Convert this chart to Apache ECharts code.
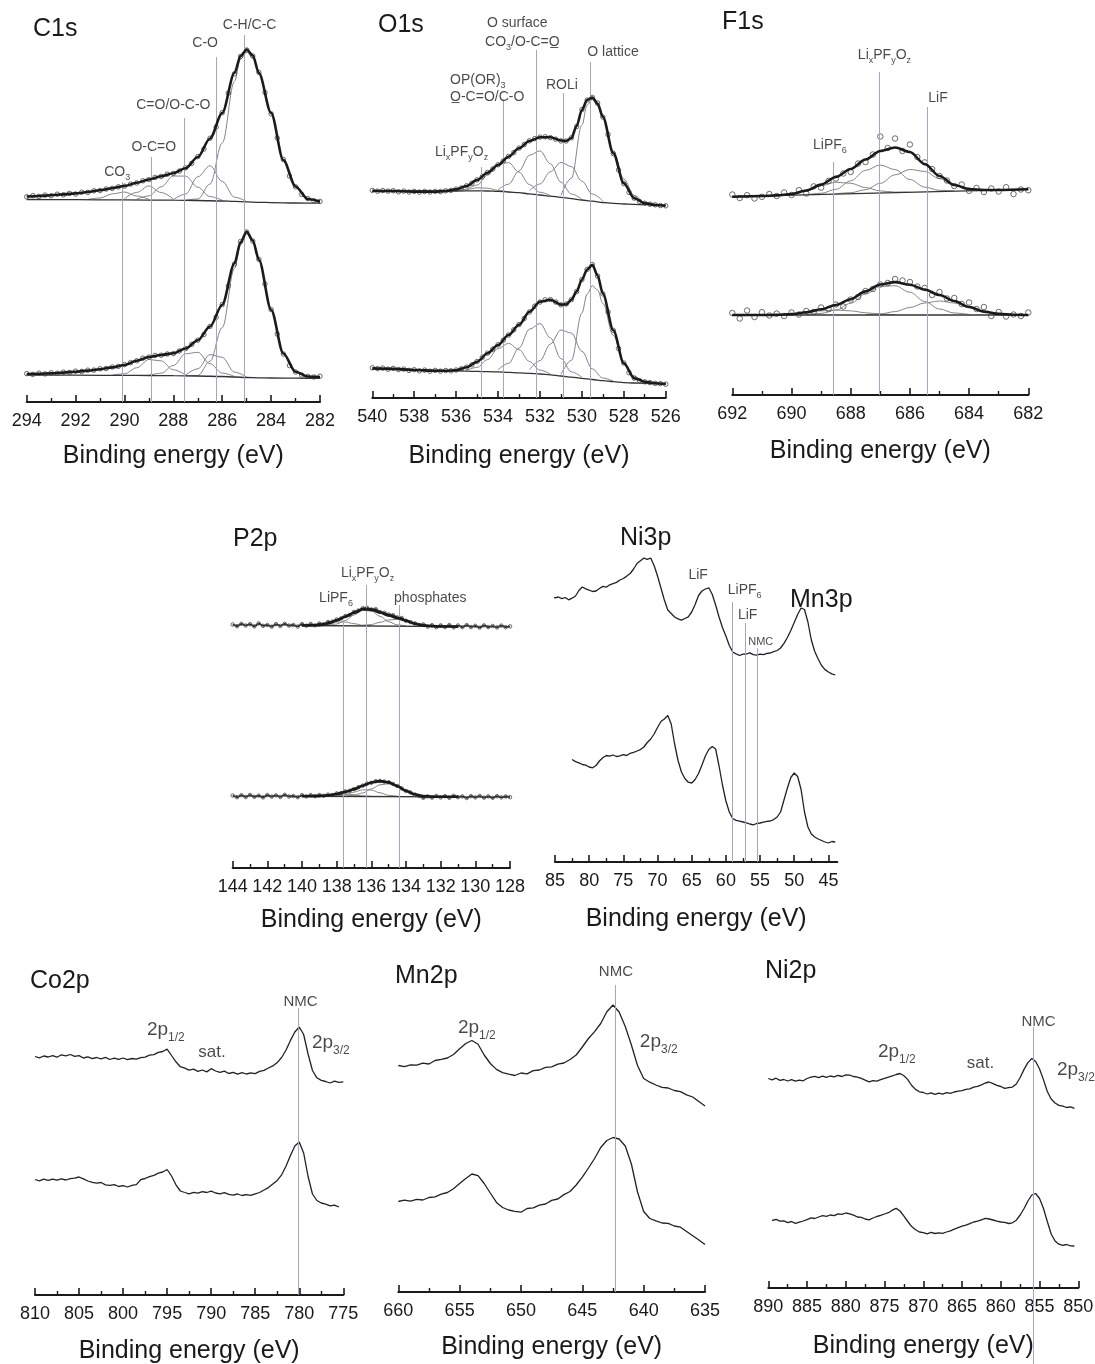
<!DOCTYPE html>
<html>
<head>
<meta charset="utf-8">
<title>XPS spectra</title>
<script src="https://cdn.jsdelivr.net/npm/echarts@6/dist/echarts.min.js"></script>
<style>
  html, body { margin: 0; padding: 0; background: #fff; }
  #chart { width: 1095px; height: 1364px; }
</style>
</head>
<body>
<div id="chart"></div>
<script>
// ---------------------------------------------------------------
// Measured spectra: counts (a.u.) on an evenly stepped energy scan,
// fit curves as [binding energy, counts] pairs.
// ---------------------------------------------------------------

// C1s (scan 294 -> 282 eV, 0.25 eV step)
const c1sTopCounts = [205.2,206.4,205.6,206.9,206.3,207.8,207.2,208.6,208.0,209.8,209.6,211.2,211.5,213.0,213.6,215.2,215.8,217.9,219.0,221.2,222.4,224.6,225.6,227.8,228.6,231.0,234.2,238.6,245.4,253.0,263.8,275.0,289.4,309.0,328.2,345.6,352.0,346.0,329.6,309.5,288.2,264.0,242.5,226.0,215.2,207.6,203.4,201.2,200.6];
const c1sBottomCounts = [28.4,27.6,28.8,28.1,29.2,28.8,29.9,29.6,30.8,30.6,31.8,31.9,33.2,33.5,35.0,35.6,37.4,39.4,41.2,43.8,45.0,46.6,46.8,48.0,48.4,51.0,53.4,57.6,61.8,67.5,75.6,84.8,97.5,116.0,138.0,160.5,170.0,161.0,142.6,118.0,92.5,68.0,48.0,36.5,30.0,27.0,25.6,25.0,25.8];
const c1sTopEnvelope = [[294,205.5],[293.5,206],[293,206.8],[292.5,207.6],[292,208.6],[291.5,210],[291,211.8],[290.5,213.8],[290,216],[289.5,219.2],[289,222.5],[288.5,225.8],[288,228.8],[287.5,233.8],[287,245],[286.5,263.5],[286,289],[285.5,329],[285.25,346],[285,352.5],[284.75,346.5],[284.5,329],[284,289],[283.5,242],[283,215.5],[282.5,203],[282,200.5]];
const c1sTopBackground = [[294,202.5],[292,202.3],[290,202.1],[288,201.8],[287,201.5],[286,201],[285.5,200.6],[285,200.1],[284.5,199.7],[284,199.4],[283,199],[282,198.8]];
const c1sTopCH = [[287.5,201.9],[287,203],[286.5,218],[286,259],[285.5,320.5],[285.25,343],[285,350],[284.75,344],[284.5,328.7],[284,288.7],[283.5,242],[283,215.3],[282.5,202.5],[282,199.2]];
const c1sTopCO = [[288,202.4],[287.5,207.9],[287,225.2],[286.5,236.3],[286,220.6],[285.5,204.8],[285,200.4]];
const c1sTopCdO = [[289.5,202.7],[289,206.1],[288.5,215.2],[288,226],[287.5,225.9],[287,214.8],[286.5,205.4],[286,201.7]];
const c1sTopOCO = [[290,203.3],[289.5,209.6],[289,216],[288.5,209.5],[288,203]];
const c1sTopCO3 = [[291.5,202.6],[291,204],[290.5,208.1],[290,210],[289.5,206],[289,202.7]];
const c1sBottomEnvelope = [[294,28],[293.5,28.3],[293,28.7],[292.5,29.4],[292,30.3],[291.5,31.4],[291,32.7],[290.5,34.6],[290,37],[289.5,41.2],[289,45],[288.5,47],[288,48.7],[287.5,53.5],[287,61.8],[286.5,75.5],[286,97.3],[285.5,138.5],[285.25,160],[285,170.2],[284.75,161.5],[284.5,142.3],[284,92.3],[283.5,48.5],[283,30.2],[282.5,25.5],[282,25]];
const c1sBottomBackground = [[294,27],[292,26.8],[290,26.6],[289,26.5],[288,26.3],[287,26],[286,25.5],[285.5,25],[285,24.5],[284.5,24.2],[284,24],[283,23.8],[282,23.7]];
const c1sBottomCH = [[287.5,26.2],[287,26.5],[286.5,40.8],[286,74.4],[285.5,133.3],[285.25,157],[285,169.5],[284.75,160.5],[284.5,142],[284,92],[283.5,48.7],[283,30.3],[282.5,25],[282,24]];
const c1sBottomCO = [[287.5,26.9],[287,33.2],[286.5,47.4],[286,44.7],[285.5,29.9],[285,24.9]];
const c1sBottomCdO = [[289,26.7],[288.5,28.8],[288,36.5],[287.5,48.2],[287,49.7],[286.5,38.3],[286,28.9],[285.5,25.5]];
const c1sBottomOCO = [[290.5,26.9],[290,28.2],[289.5,34.2],[289,42.5],[288.5,41.1],[288,32.2],[287.5,27.2]];
const c1sAssignments = [290.1, 288.9, 287.55, 286.25, 285.1];

// O1s (scan 540 -> 526 eV, 0.25 eV step)
const o1sTopCounts = [207.6,206.8,207.5,206.9,207.3,206.2,206.9,206.0,206.6,205.9,206.5,206.0,206.6,206.4,207.2,207.6,208.9,210.0,212.2,214.8,218.2,221.4,225.6,229.0,233.2,237.0,241.6,245.4,249.9,253.5,257.2,259.4,260.9,261.2,260.4,258.8,257.1,257.0,260.2,271.5,288.4,298.0,300.6,295.0,281.0,263.5,244.4,228.0,214.4,205.6,199.9,196.6,194.8,193.8,193.2,192.4,192.2];
const o1sBottomCounts = [30.2,29.4,29.9,28.8,29.6,28.5,28.9,27.6,28.3,27.2,27.9,26.8,27.6,26.9,27.5,27.2,28.0,29.2,30.9,33.2,36.5,40.6,44.8,48.9,53.2,57.8,63.0,68.2,73.4,79.5,86.0,91.8,96.0,98.2,98.4,96.0,93.2,94.0,98.4,106.5,118.4,128.6,133.4,122.0,104.2,86.0,67.6,49.5,35.0,25.4,20.0,17.4,16.2,15.4,14.6,14.4,13.8];
const o1sTopEnvelope = [[540,207.3],[539,207],[538,206.4],[537,206.3],[536.5,207],[536,208.7],[535.5,212],[535,218],[534.5,225.3],[534,233],[533.5,241.3],[533,249.7],[532.5,257],[532,260.7],[531.5,260.7],[531,257.5],[530.75,257],[530.5,260],[530.25,272],[530,288],[529.75,298],[529.5,300.5],[529.25,294.5],[529,281.3],[528.5,244.7],[528,214.7],[527.5,199.7],[527,194.7],[526.5,193],[526,192.3]];
const o1sTopBackground = [[540,207],[536,207],[535,207.2],[534.5,207],[534,206.6],[533.5,206],[533,205.3],[532.5,204.2],[532,203],[531.5,201.9],[531,200.7],[530.5,199.4],[530,198],[529.5,196.8],[529,195.5],[528.5,194.6],[528,194],[527.5,193.6],[527,193.3],[526,192.7]];
const o1sTopLiPFO = [[536,207.1],[535.5,208.6],[535,210.2],[534.5,209.8],[534,207.6],[533.5,206.1]];
const o1sTopOP = [[535.5,208.2],[535,213],[534.5,222.8],[534,233.6],[533.5,235.4],[533,225.9],[532.5,213.4],[532,205.7],[531.5,202.4]];
const o1sTopSurface = [[534,208.2],[533.5,213.8],[533,227],[532.5,242.8],[532,247.1],[531.5,234.2],[531,215.9],[530.5,204],[530,198.9]];
const o1sTopROLi = [[532.5,207.4],[532,214],[531.5,226.3],[531,235.6],[530.5,231.4],[530,216.8],[529.5,203.9],[529,197.2]];
const o1sTopLattice = [[531,202.7],[530.5,219.8],[530,272.8],[529.75,293],[529.5,298.8],[529.25,292],[529,279.8],[528.5,247.2],[528,218.9],[527.5,202.5],[527,195.7],[526.5,193.5]];
const o1sBottomEnvelope = [[540,29.7],[539,29.3],[538,28],[537,27.3],[536.5,27.3],[536,27.7],[535.5,30.7],[535,36.3],[534.5,44.7],[534,53],[533.5,63],[533,73.2],[532.5,86.2],[532,96.2],[531.5,98.2],[531,93.4],[530.75,93.6],[530.5,98.2],[530.25,106.5],[530,118.2],[529.75,128.5],[529.5,133.2],[529.25,122.5],[529,104.5],[528.5,67.8],[528,34.8],[527.5,19.8],[527,16.3],[526.5,14.7],[526,14]];
const o1sBottomBackground = [[540,28.8],[538,28],[537,27.5],[536,27.1],[535,26.7],[534,26.2],[533.5,25.7],[533,25.1],[532.5,24.6],[532,24],[531.5,23.1],[531,22],[530.5,20.9],[530,19.7],[529.5,18.5],[529,17.3],[528.5,16.3],[528,15.4],[527.5,15],[527,14.7],[526.5,14.3],[526,14]];
const o1sBottomOP = [[535.5,27.7],[535,30.6],[534.5,38.4],[534,49.4],[533.5,54.7],[533,48.3],[532.5,36.5],[532,27.9],[531.5,23.9]];
const o1sBottomSurface = [[534,28.2],[533.5,34.6],[533,50],[532.5,68.8],[532,74.5],[531.5,60.1],[531,39.4],[530.5,26.2],[530,20.7]];
const o1sBottomROLi = [[532.5,28.3],[532,37.3],[531.5,54],[531,68],[530.5,64.9],[530,46.8],[529.5,29.1],[529,20],[528.5,16.7]];
const o1sBottomLattice = [[531,23.6],[530.5,37.6],[530,84.9],[529.75,104],[529.5,112.3],[529.25,108],[529,94.6],[528.5,62.6],[528,35.7],[527.5,21.5],[527,16.2],[526.5,14.5]];
const o1sAssignments = [534.78, 533.75, 532.2, 530.9, 529.6];

// F1s (scan 692 -> 682 eV, 0.25 eV step)
const f1sTopCounts = [200.5,197.0,199.8,196.5,198.2,201.0,199.0,202.5,200.0,204.8,201.5,208.6,207.4,214.0,216.5,221.5,223.0,231.5,233.0,240.5,258.5,247.0,256.5,244.0,250.5,238.0,232.6,226.0,219.0,214.5,209.0,210.5,204.2,207.0,203.0,206.5,203.5,207.8,201.0,205.5,204.8];
const f1sBottomCounts = [82.0,76.5,84.5,78.0,82.8,79.5,81.5,79.0,82.5,80.5,84.0,83.0,87.5,86.0,90.5,88.5,95.5,98.0,104.0,106.0,110.5,112.0,116.0,114.5,113.0,108.5,107.0,100.0,103.0,96.5,97.0,91.0,92.5,86.0,88.0,79.0,83.0,78.5,80.5,79.0,82.5];
const f1sTopEnvelope = [[692,198.3],[691,199],[690.5,199.6],[690,201],[689.5,204.5],[689,210.4],[688.5,218],[688,226],[687.5,235.5],[687,244],[686.5,247.5],[686,243],[685.5,231],[685,219],[684.5,210],[684,206],[683.5,205],[683,205],[682,205.7]];
const f1sTopBackground = [[692,198.3],[682,205.7]];
const f1sTopLiPF6 = [[690.5,199.6],[690,201],[689.5,204.2],[689,209.2],[688.5,212.8],[688,211.7],[687.5,207.4],[687,204.1],[686.5,202.9],[686,202.7]];
const f1sTopLixPFyOz = [[689.5,200.3],[689,201.7],[688.5,205.7],[688,214.1],[687.5,224.6],[687,230],[686.5,225.4],[686,215.5],[685.5,207.9],[685,204.7],[684.5,203.9]];
const f1sTopLiF = [[688.5,201.2],[688,202.3],[687.5,205.3],[687,211.7],[686.5,220.2],[686,225.5],[685.5,223.6],[685,216.4],[684.5,209.6],[684,205.9],[683.5,205],[683,205]];
const f1sBottomEnvelope = [[692,80],[691,80],[690.5,80.1],[690,80.9],[689.5,82.7],[689,85.7],[688.5,90],[688,95.8],[687.5,103.6],[687,110.5],[686.5,112.9],[686,110.3],[685.5,105.5],[685,100],[684.5,94],[684,88],[683.5,83.4],[683,81.1],[682.5,80.3],[682,80]];
const f1sBottomBackground = [[692,80],[682,80]];
const f1sBottomLiPF6 = [[690.5,80.1],[690,80.9],[689.5,82.3],[689,84.1],[688.5,85],[688,84.1],[687.5,82.3],[687,80.9],[686.5,80.2]];
const f1sBottomLixPFyOz = [[689.5,80.4],[689,81.6],[688.5,85],[688,91.7],[687.5,101],[687,108.5],[686.5,109.3],[686,102.8],[685.5,93.5],[685,86],[684.5,82],[684,80.5]];
const f1sBottomLiF = [[687.5,80.3],[687,81.1],[686.5,83.4],[686,87.5],[685.5,92],[685,94],[684.5,92],[684,87.5],[683.5,83.4],[683,81.1],[682.5,80.3]];
const f1sAssignments = [688.6, 687.05, 685.4];

// P2p (scan 144 -> 128 eV, 0.25 eV step)
const p2pTopCounts = [243.5,241.8,244.2,242.5,243.8,241.6,244.6,242.2,243.0,241.4,243.8,242.0,244.2,242.4,243.0,241.5,243.9,242.3,244.0,242.6,244.5,243.8,246.0,246.4,248.5,249.6,252.0,253.0,256.2,257.5,259.8,260.2,258.6,258.9,256.0,255.2,253.5,252.8,250.6,250.0,247.2,246.0,244.6,243.0,243.6,241.4,242.8,240.8,242.6,241.0,243.0,240.6,242.5,240.8,242.9,241.0,242.2,240.4,242.6,240.9,242.0,240.6,242.4,240.8,241.6];
const p2pBottomCounts = [72.5,70.8,72.8,71.0,73.0,71.2,72.4,70.6,72.9,71.4,72.6,71.0,73.2,71.5,72.0,70.8,72.8,71.6,72.9,71.8,73.0,72.2,73.4,73.0,74.6,75.0,76.6,77.2,79.0,80.8,82.4,84.5,85.2,86.8,87.0,86.4,85.8,84.0,82.0,79.6,77.0,75.6,73.5,72.0,70.2,71.6,70.4,72.0,70.6,71.8,70.2,72.2,70.8,71.6,70.0,71.8,70.6,72.0,70.4,71.6,70.2,71.8,70.6,71.5,70.8];
const p2pTopEnvelope = [[140,242.5],[139.5,242.6],[139,242.9],[138.5,244.5],[138,247.6],[137.5,251.3],[137,255.3],[136.5,258.7],[136,258.4],[135.5,255.5],[135,252.5],[134.5,250],[134,247.4],[133.5,244.4],[133,242.6],[132.5,241.9],[132,241.5],[131,241.4]];
const p2pTopBackground = [[140,242.5],[131,241.4]];
const p2pTopLiPF6 = [[139.5,242.5],[139,242.9],[138.5,244.1],[138,245.9],[137.5,246],[137,244.3],[136.5,242.8],[136,242.1]];
const p2pTopLixPFyOz = [[138.5,242.7],[138,244],[137.5,247.5],[137,253.1],[136.5,257.6],[136,256.9],[135.5,251.7],[135,246.3],[134.5,243.1],[134,242.1]];
const p2pTopPhosphates = [[136.5,242.5],[136,243.5],[135.5,245.7],[135,248.1],[134.5,248.7],[134,247.1],[133.5,244.4],[133,242.6],[132.5,241.9]];
const p2pBottomEnvelope = [[140,71.8],[139.5,71.8],[139,71.9],[138.5,72.6],[138,74],[137.5,76.1],[137,78.7],[136.5,82.2],[136,85.5],[135.5,86.9],[135,85.6],[134.5,81.9],[134,77.2],[133.5,73.7],[133,72],[132.5,71.4],[132,71.2],[131,71.2]];
const p2pBottomBackground = [[140,71.75],[131,71.2]];
const p2pBottomLiPF6 = [[139.5,71.8],[139,71.9],[138.5,72.6],[138,73.6],[137.5,74.1],[137,73.2],[136.5,72],[136,71.6]];
const p2pBottomLixPFyOz = [[138.5,71.8],[138,72],[137.5,73.3],[137,75.9],[136.5,78.2],[136,77.9],[135.5,75.2],[135,72.7],[134.5,71.7]];
const p2pBottomPhosphates = [[137.5,71.9],[137,72.8],[136.5,75],[136,79.1],[135.5,83.2],[135,84.3],[134.5,81.6],[134,77.2],[133.5,73.7],[133,72],[132.5,71.5]];
const p2pAssignments = [137.6, 136.27, 134.4];

// Ni3p / Mn3p (0.5 eV step; top scan from 85.5 eV, bottom from 82.5 eV)
const ni3pTopCounts = [265.5,264.2,265.0,263.4,264.5,262.2,263.8,266.0,271.5,275.0,273.2,271.8,270.5,271.0,273.5,275.6,274.8,277.2,278.4,279.6,282.0,283.5,285.9,288.5,293.0,298.5,301.2,303.9,302.6,304.0,296.5,286.0,274.0,262.0,252.0,248.5,245.0,243.2,241.8,243.5,245.2,250.0,257.5,266.5,271.0,273.0,274.2,267.8,257.0,245.0,234.5,226.0,216.5,210.0,208.2,206.5,207.8,208.0,209.2,207.4,206.8,207.9,207.3,208.6,209.0,210.4,211.5,214.0,218.6,224.5,231.5,239.5,247.5,254.0,252.5,240.0,222.0,210.5,203.0,196.5,192.4,190.0,188.2,187.0];
const ni3pBottomCounts = [102.5,100.4,99.2,97.5,96.8,95.0,94.2,96.5,101.0,104.2,106.5,105.8,107.0,105.5,106.2,107.4,106.5,108.7,109.6,111.0,112.4,115.0,119.5,123.0,128.0,134.5,140.5,143.0,146.5,138.0,118.0,101.5,90.0,83.5,79.8,79.0,82.5,88.5,97.0,106.0,112.5,115.5,113.0,96.0,77.0,61.0,50.0,43.5,41.6,40.8,40.0,39.2,38.0,37.2,38.5,39.0,39.8,40.6,41.0,42.4,45.0,50.0,62.0,74.0,84.5,89.0,85.5,72.5,50.0,35.0,28.0,25.0,23.0,21.5,20.0,19.0,20.5,20.0];
const ni3pAssignments = [59.0, 57.2, 55.4];
const ni3pTicks = [45, 50, 55, 60, 65, 70, 75, 80, 85];
const ni3pMinorTicks = [47.5, 52.5, 57.5, 62.5, 67.5, 72.5, 77.5, 82.5];

// Co2p (0.5 eV step from 810 eV)
const co2pTopCounts = [238.5,237.2,239.0,238.0,239.4,237.8,240.2,239.1,240.5,238.6,239.3,237.0,238.2,236.4,237.5,236.2,237.6,235.5,236.8,235.6,237.0,235.4,236.5,235.8,237.4,237.9,239.8,240.4,242.6,243.5,245.9,239.5,233.2,228.3,226.9,224.8,225.9,223.7,225.0,223.1,226.3,224.0,222.6,223.8,221.5,222.7,220.9,222.3,221.0,222.2,221.4,223.6,224.7,227.0,229.1,232.4,237.5,245.0,254.6,263.0,268.0,260.5,241.0,224.5,217.2,214.6,213.5,212.0,213.8,212.6,213.2];
const co2pBottomCounts = [115.5,114.2,115.8,114.6,115.9,114.8,116.2,115.0,116.4,116.9,118.0,116.1,114.0,112.6,111.8,112.5,110.2,109.6,110.4,108.5,109.3,108.0,109.6,110.4,115.3,116.5,118.4,119.6,121.8,123.0,125.5,119.0,110.2,104.0,102.5,101.2,102.6,101.8,103.4,102.5,103.8,102.0,101.2,102.3,100.6,99.8,101.0,99.5,100.4,99.6,101.2,102.5,105.0,107.4,111.0,114.6,120.2,129.0,139.5,149.0,153.0,142.0,118.5,101.0,94.5,92.0,90.8,89.2,89.9,88.0];
const co2pAssignments = [780.1];

// Mn2p (0.5 eV step from 660 eV)
const mn2pTopCounts = [226.5,225.4,227.2,226.8,228.9,228.0,231.5,232.6,234.0,237.5,243.2,248.5,251.5,247.8,237.0,228.5,222.6,219.4,217.8,216.5,219.0,218.2,221.3,222.0,224.6,225.1,227.8,229.0,232.5,237.0,245.0,253.5,260.4,268.5,280.2,287.0,280.0,265.5,247.0,226.5,213.5,209.8,207.0,204.6,204.0,201.5,200.4,197.2,195.0,190.5,186.0];
const mn2pBottomCounts = [90.5,91.8,90.9,92.6,92.0,94.5,95.2,97.8,99.5,103.2,108.6,113.5,118.0,116.3,108.5,99.0,89.6,84.5,82.0,80.6,79.8,83.5,84.2,86.8,88.0,91.6,93.0,97.4,100.5,107.0,114.8,124.0,133.5,144.5,151.5,154.5,153.0,146.0,128.0,100.0,80.5,73.5,71.2,69.0,68.6,66.0,64.8,60.5,56.2,52.0,47.5];
const mn2pAssignments = [642.3];

// Ni2p (0.5 eV step; top scan from 890 eV, bottom from 889.5 eV)
const ni2pTopCounts = [209.5,208.2,209.8,207.6,208.5,207.0,208.3,206.8,207.9,207.2,209.5,210.8,211.6,210.4,211.8,210.6,212.0,211.2,212.6,211.5,213.2,212.8,211.5,210.9,209.6,207.8,206.2,207.4,206.9,208.4,209.6,210.8,212.1,213.5,214.5,212.2,208.4,202.5,198.6,196.2,195.5,194.0,195.2,193.6,194.8,193.9,195.3,194.6,196.0,196.9,197.4,198.6,199.2,200.9,201.6,203.2,205.0,206.0,204.4,202.6,201.5,199.6,200.3,200.9,204.0,210.5,218.6,225.4,229.5,226.5,219.0,208.4,196.5,189.0,185.0,182.6,181.8,180.5,181.2,179.6];
const ni2pBottomCounts = [67.5,68.6,66.8,67.2,65.4,66.5,64.6,65.8,67.0,68.4,70.2,69.5,71.0,72.4,71.6,73.0,72.3,74.2,73.6,75.0,74.1,72.8,71.0,70.6,69.0,68.2,70.0,71.5,72.6,74.0,75.3,77.8,79.6,77.0,71.8,66.5,61.4,58.2,56.0,55.4,54.2,55.6,54.5,55.2,54.6,56.0,57.2,58.9,60.4,61.8,62.9,64.4,66.0,66.8,68.2,69.6,69.0,68.0,66.9,66.0,65.6,64.5,65.2,67.8,73.0,79.5,87.0,93.0,94.5,89.5,79.8,66.5,54.0,47.0,43.8,42.6,43.5,42.2,42.0];
const ni2pAssignments = [855.8];

// ---------------------------------------------------------------
// Drawing
// ---------------------------------------------------------------
const FONT = '"Liberation Sans", Arial, Helvetica, sans-serif';
const INK = '#1a1a1a';
const GUIDE = '#a2a7c6';
const COMP = '#858585';

// energy scan -> [eV, counts] pairs
const scan = (start, step, values) => values.map((v, i) => [+(start - i * step).toFixed(2), v]);

// panel frames (pixel boxes of the eight plots); the Ni2p frame reaches the page
// bottom so that its NMC guide can run on below the energy scale
const frames = [
  { left: 26.7,  top: 0,   width: 293.3, height: 402, yMin: 0,   yMax: 402, xMin: 282,  xMax: 294, interval: 2, nameGap: 42 },
  { left: 372.3, top: 0,   width: 293.4, height: 398, yMin: 0,   yMax: 398, xMin: 526,  xMax: 540, interval: 2, nameGap: 46 },
  { left: 732.3, top: 0,   width: 296,   height: 395, yMin: 0,   yMax: 395, xMin: 682,  xMax: 692, interval: 2, nameGap: 44 },
  { left: 232.7, top: 520, width: 277.3, height: 348, yMin: 0,   yMax: 348, xMin: 128,  xMax: 144, interval: 2, nameGap: 40 },
  { left: 555,   top: 520, width: 282.3, height: 342, yMin: 0,   yMax: 342, xMin: 43.7, xMax: 85,  majors: ni3pTicks, nameGap: 45 },
  { left: 35,    top: 960, width: 308.3, height: 335, yMin: 0,   yMax: 335, xMin: 775,  xMax: 810, interval: 5, nameGap: 44 },
  { left: 398.3, top: 960, width: 306.7, height: 332, yMin: 0,   yMax: 332, xMin: 635,  xMax: 660, interval: 5, nameGap: 43 },
  { left: 768.3, top: 960, width: 310,   height: 404, yMin: -76, yMax: 328, xMin: 850,  xMax: 890, interval: 5, nameGap: 46, offset: -76 }
];

function energyAxis(f, i) {
  const ax = {
    type: 'value', gridIndex: i, position: 'bottom', offset: f.offset || 0, inverse: true, min: f.xMin, max: f.xMax,
    axisLine: { show: true, onZero: false, lineStyle: { color: INK, width: 2 } },
    axisTick: { show: true, inside: true, length: 7, lineStyle: { color: INK, width: 1.6 } },
    axisLabel: { show: true, color: INK, fontSize: 18, fontFamily: FONT, margin: 10, showMinLabel: true, showMaxLabel: true },
    splitLine: { show: false },
    name: 'Binding energy (eV)', nameLocation: 'middle', nameGap: f.nameGap,
    nameTextStyle: { color: INK, fontSize: 25, fontFamily: FONT }
  };
  if (f.majors) {
    ax.axisTick.customValues = f.majors;
    ax.axisLabel.customValues = f.majors;
  } else {
    ax.interval = f.interval;
    ax.minorTick = { show: true, splitNumber: 2, length: 4, lineStyle: { color: INK, width: 1.4 } };
    ax.minorSplitLine = { show: false };
  }
  return ax;
}

const xAxes = frames.map(energyAxis);
// half-step ticks of the Ni3p/Mn3p scale
xAxes.push({
  type: 'value', gridIndex: 4, position: 'bottom', inverse: true, min: 43.7, max: 85,
  axisLine: { show: false, onZero: false },
  axisTick: { show: true, inside: true, length: 4, customValues: ni3pMinorTicks, lineStyle: { color: INK, width: 1.4 } },
  axisLabel: { show: false }, splitLine: { show: false }
});

const series = [];
const line = (gi, data, color, width, z, smooth) => series.push({
  type: 'line', xAxisIndex: gi, yAxisIndex: gi, data, symbol: 'none', showSymbol: false,
  smooth: smooth || false, smoothMonotone: 'x', silent: true, animation: false, z,
  lineStyle: { color, width }
});
const circles = (gi, data, size, z) => series.push({
  type: 'scatter', xAxisIndex: gi, yAxisIndex: gi, data, symbol: 'circle', symbolSize: size,
  silent: true, animation: false, z,
  itemStyle: { color: 'rgba(0,0,0,0)', borderColor: '#474747', borderWidth: 1 }
});
const guides = (gi, energies, tops, bottom) => series.push({
  type: 'line', xAxisIndex: gi, yAxisIndex: gi, data: [], silent: true, animation: false, z: 1,
  markLine: {
    silent: true, animation: false, symbol: ['none', 'none'], label: { show: false },
    lineStyle: { color: GUIDE, width: 1, type: 'solid' },
    data: energies.map((e, k) => [{ coord: [e, bottom] }, { coord: [e, tops[k]] }])
  }
});

const RICH = {
  a: { fontSize: 14, lineHeight: 20, color: INK, fontFamily: FONT },
  s: { fontSize: 9, lineHeight: 20, color: INK, fontFamily: FONT, verticalAlign: 'bottom' },
  n: { fontSize: 15, lineHeight: 20, color: INK, fontFamily: FONT },
  t: { fontSize: 11, lineHeight: 16, color: INK, fontFamily: FONT },
  p: { fontSize: 19, lineHeight: 28, color: INK, fontFamily: FONT },
  q: { fontSize: 12, lineHeight: 28, color: INK, fontFamily: FONT, verticalAlign: 'bottom' },
  r: { fontSize: 17, lineHeight: 24, color: INK, fontFamily: FONT }
};
const notes = (gi, items) => series.push({
  type: 'scatter', xAxisIndex: gi, yAxisIndex: gi, symbolSize: 1, silent: true, animation: false, z: 10,
  itemStyle: { color: 'rgba(0,0,0,0)' },
  data: items.map(([text, at, align]) => ({
    value: at,
    label: { show: true, position: 'inside', align, verticalAlign: 'middle', formatter: text, rich: RICH }
  }))
});

// fitted panel: components, background, measured points, envelope
function fitted(gi, comps, bg, counts, env, markerSize, withTrace) {
  comps.forEach(c => line(gi, c, COMP, 1, 2, 0.35));
  line(gi, bg, '#333', 1.3, 3, 0.3);
  if (withTrace) line(gi, counts, '#2a2a2a', 1.8, 4);
  circles(gi, counts, markerSize, 4);
  line(gi, env, '#1a1a1a', 2.6, 5, 0.3);
}

const LIXPFYOZ = '{a|Li}{s|x}{a|PF}{s|y}{a|O}{s|z}';
const LIPF6 = '{a|LiPF}{s|6}';

// C1s
guides(0, c1sAssignments, [220, 245, 284, 345, 367], 0);
fitted(0, [c1sTopCO3, c1sTopOCO, c1sTopCdO, c1sTopCO, c1sTopCH], c1sTopBackground, scan(294, 0.25, c1sTopCounts), c1sTopEnvelope, 4.5);
fitted(0, [c1sBottomOCO, c1sBottomCdO, c1sBottomCO, c1sBottomCH], c1sBottomBackground, scan(294, 0.25, c1sBottomCounts), c1sBottomEnvelope, 4.5);
notes(0, [
  ['{a|C-H/C-C}', [284.88, 377], 'center'],
  ['{a|C-O}', [286.7, 359], 'center'],
  ['{a|C=O/O-C-O}', [288.0, 297], 'center'],
  ['{a|O-C=O}', [288.8, 255], 'center'],
  ['{a|CO}{s|3}', [290.3, 230], 'center']
]);

// O1s
guides(1, o1sAssignments, [231, 298, 348, 305, 336], 0);
fitted(1, [o1sTopLiPFO, o1sTopOP, o1sTopSurface, o1sTopROLi, o1sTopLattice], o1sTopBackground, scan(540, 0.25, o1sTopCounts), o1sTopEnvelope, 4.5);
fitted(1, [o1sBottomOP, o1sBottomSurface, o1sBottomROLi, o1sBottomLattice], o1sBottomBackground, scan(540, 0.25, o1sBottomCounts), o1sBottomEnvelope, 4.5);
notes(1, [
  ['{a|O surface}', [534.53, 375], 'left'],
  ['{a|CO}{s|3}{a|/O-C=O\u0332}', [534.62, 356], 'left'],
  ['{a|OP(OR)}{s|3}', [536.29, 318], 'left'],
  ['{a|O\u0332-C=O/C-O}', [536.29, 301], 'left'],
  ['{a|ROLi}', [530.95, 313], 'center'],
  ['{a|O lattice}', [529.74, 346], 'left'],
  [LIXPFYOZ, [537.01, 246], 'left']
]);

// F1s
guides(2, f1sAssignments, [233, 323, 288], 0);
fitted(2, [f1sTopLiPF6, f1sTopLixPFyOz, f1sTopLiF], f1sTopBackground, scan(692, 0.25, f1sTopCounts), f1sTopEnvelope, 5.5);
fitted(2, [f1sBottomLiPF6, f1sBottomLixPFyOz, f1sBottomLiF], f1sBottomBackground, scan(692, 0.25, f1sBottomCounts), f1sBottomEnvelope, 5.5);
notes(2, [
  [LIXPFYOZ, [686.86, 340], 'center'],
  ['{a|LiF}', [685.38, 297], 'left'],
  [LIPF6, [688.7, 250], 'center']
]);

// P2p
guides(3, p2pAssignments, [248, 283, 263], 0);
fitted(3, [p2pTopLiPF6, p2pTopLixPFyOz, p2pTopPhosphates], p2pTopBackground, scan(144, 0.25, p2pTopCounts), p2pTopEnvelope, 3.5, true);
fitted(3, [p2pBottomLiPF6, p2pBottomLixPFyOz, p2pBottomPhosphates], p2pBottomBackground, scan(144, 0.25, p2pBottomCounts), p2pBottomEnvelope, 3.5, true);
notes(3, [
  [LIXPFYOZ, [136.22, 295], 'center'],
  [LIPF6, [138.04, 270], 'center'],
  ['{a|phosphates}', [134.69, 270], 'left']
]);

// Ni3p / Mn3p
guides(4, ni3pAssignments, [260, 239, 214], 0);
line(4, scan(85.5, 0.5, ni3pTopCounts), '#222', 1.3, 3);
line(4, scan(82.5, 0.5, ni3pBottomCounts), '#222', 1.3, 3);
notes(4, [
  ['{a|LiF}', [64.06, 287], 'center'],
  [LIPF6, [57.25, 272], 'center'],
  ['{a|LiF}', [56.82, 247], 'center'],
  ['{t|NMC}', [54.9, 220], 'center']
]);

// Co2p
guides(5, co2pAssignments, [287], 0);
line(5, scan(810, 0.5, co2pTopCounts), '#222', 1.3, 3);
line(5, scan(810, 0.5, co2pBottomCounts), '#222', 1.3, 3);
notes(5, [
  ['{n|NMC}', [779.86, 293], 'center'],
  ['{p|2p}{q|1/2}', [797.29, 265], 'left'],
  ['{r|sat.}', [789.9, 243], 'center'],
  ['{p|2p}{q|3/2}', [778.56, 252], 'left']
]);

// Mn2p
guides(6, mn2pAssignments, [307], 0);
line(6, scan(660, 0.5, mn2pTopCounts), '#222', 1.3, 3);
line(6, scan(660, 0.5, mn2pBottomCounts), '#222', 1.3, 3);
notes(6, [
  ['{n|NMC}', [642.26, 320], 'center'],
  ['{p|2p}{q|1/2}', [655.14, 264], 'left'],
  ['{p|2p}{q|3/2}', [640.31, 250], 'left']
]);

// Ni2p
guides(7, ni2pAssignments, [261], -76);
line(7, scan(890, 0.5, ni2pTopCounts), '#222', 1.3, 3);
line(7, scan(889.5, 0.5, ni2pBottomCounts), '#222', 1.3, 3);
notes(7, [
  ['{n|NMC}', [855.14, 266], 'center'],
  ['{p|2p}{q|1/2}', [875.85, 236], 'left'],
  ['{r|sat.}', [862.62, 225], 'center'],
  ['{p|2p}{q|3/2}', [852.75, 218], 'left']
]);

const titles = [
  ['C1s', 33, 17], ['O1s', 378, 13], ['F1s', 722, 10],
  ['P2p', 233, 527], ['Ni3p', 620, 526], ['Mn3p', 790, 588],
  ['Co2p', 30, 969], ['Mn2p', 395, 964], ['Ni2p', 765, 959]
].map(([text, left, top]) => ({
  text, left, top, padding: 0,
  textStyle: { fontSize: 25, fontWeight: 'normal', color: INK, fontFamily: FONT }
}));

const chart = echarts.init(document.getElementById('chart'), null, { renderer: 'canvas' });
chart.setOption({
  animation: false,
  backgroundColor: '#ffffff',
  textStyle: { fontFamily: FONT },
  title: titles,
  grid: frames.map(f => ({
    left: f.left, top: f.top, width: f.width, height: f.height,
    containLabel: false, outerBoundsMode: 'none'
  })),
  xAxis: xAxes,
  yAxis: frames.map((f, i) => ({ type: 'value', gridIndex: i, min: f.yMin, max: f.yMax, show: false })),
  series
});
</script>
</body>
</html>
